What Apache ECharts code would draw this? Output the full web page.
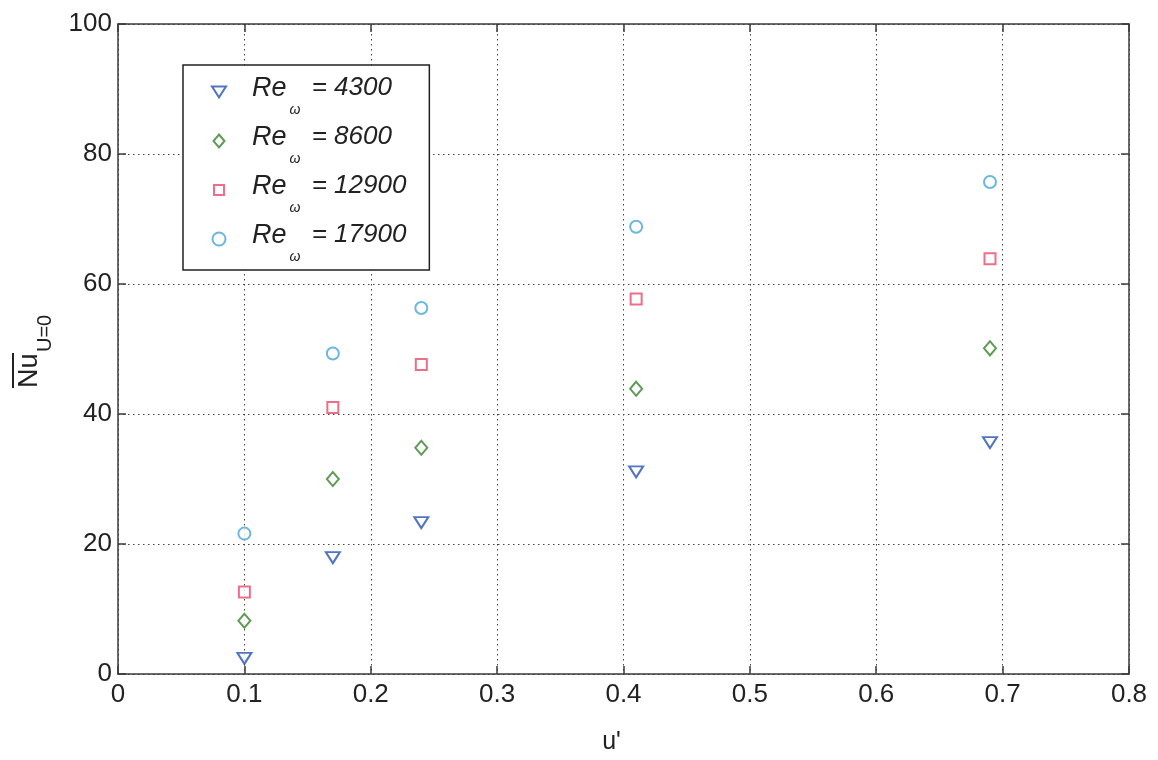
<!DOCTYPE html>
<html>
<head>
<meta charset="utf-8">
<script src="https://cdn.jsdelivr.net/npm/echarts@6/dist/echarts.min.js"></script>
<style>
html,body{margin:0;padding:0;background:#fff;}
#chart{width:1158px;height:760px;}
</style>
</head>
<body>
<div id="chart"></div>
<script>
// ---- data ----
var uPrime = [0.1, 0.17, 0.24, 0.41, 0.69];
var nu4300 = [2.4, 17.9, 23.3, 31.1, 35.6];
var nu8600 = [8.2, 30.0, 34.8, 43.9, 50.1];
var nu12900 = [12.6, 41.0, 47.6, 57.7, 63.9];
var nu17900 = [21.6, 49.3, 56.3, 68.8, 75.7];
var reLabels = ['4300', '8600', '12900', '17900'];
var xTicks = [0, 0.8, 0.1];
var yTicks = [0, 100, 20];

function pairs(xs, ys) { return xs.map(function (x, i) { return [x, ys[i]]; }); }

var FONT = '"Liberation Sans", Arial, sans-serif';
var chart = echarts.init(document.getElementById('chart'), null, {renderer: 'canvas'});

var gridLine = {show: true, lineStyle: {color: '#444', width: 1, type: [1.5, 3.5]}};
var axisLine = {show: true, onZero: false, lineStyle: {color: '#3a3a3a', width: 1.5}};
var tick = {show: true, inside: true, length: 8, lineStyle: {color: '#3a3a3a', width: 1.5}};

var seriesDefs = [
  {name: 'Re = ' + reLabels[0], data: nu4300, symbol: 'triangle', size: [14, 11], rot: 180, color: '#2652b0',
   icon: 'path://M0,0L13,0L6.5,10Z'},
  {name: 'Re = ' + reLabels[1], data: nu8600, symbol: 'diamond', size: [12, 14], rot: 0, color: '#38822c',
   icon: 'path://M5.5,0L11,6.5L5.5,13L0,6.5Z'},
  {name: 'Re = ' + reLabels[2], data: nu12900, symbol: 'rect', size: [11, 11], rot: 0, color: '#e84a6a',
   icon: 'path://M-1.5,-1.5M0,0L10,0L10,10L0,10ZM11.5,11.5'},
  {name: 'Re = ' + reLabels[3], data: nu17900, symbol: 'circle', size: 12, rot: 0, color: '#45a6d6',
   icon: 'circle'}
];

var option = {
  animation: false,
  backgroundColor: '#fff',
  grid: {left: 118, right: 29, top: 24, bottom: 85, containLabel: false},
  xAxis: [{
    type: 'value', min: xTicks[0], max: xTicks[1], interval: xTicks[2],
    position: 'bottom',
    axisLine: axisLine, axisTick: tick, splitLine: gridLine,
    axisLabel: {color: '#222', fontFamily: FONT, fontSize: 26, margin: 8,
      formatter: function (v) { return v === 0 ? '0' : v.toFixed(1); }},
    name: "u'", nameLocation: 'middle', nameGap: 56,
    nameTextStyle: {color: '#222', fontFamily: FONT, fontSize: 25, padding: [0, 24, 0, 0]}
  }, {
    type: 'value', min: xTicks[0], max: xTicks[1], interval: xTicks[2],
    position: 'top',
    axisLine: axisLine, axisTick: tick, splitLine: {show: false}, axisLabel: {show: false}
  }],
  yAxis: [{
    type: 'value', min: yTicks[0], max: yTicks[1], interval: yTicks[2],
    position: 'left',
    axisLine: axisLine, axisTick: tick, splitLine: gridLine,
    axisLabel: {color: '#222', fontFamily: FONT, fontSize: 26, margin: 6}
  }, {
    type: 'value', min: yTicks[0], max: yTicks[1], interval: yTicks[2],
    position: 'right',
    axisLine: axisLine, axisTick: tick, splitLine: {show: false}, axisLabel: {show: false}
  }],
  legend: {
    orient: 'vertical', left: 183, top: 65,
    padding: [10, 23, 6, 28],
    itemGap: 7, itemWidth: 14, itemHeight: 13,
    symbolKeepAspect: true,
    backgroundColor: '#fff', borderColor: '#222', borderWidth: 1.5, borderRadius: 0,
    selectedMode: false,
    data: seriesDefs.map(function (s) {
      return {name: s.name, icon: s.icon,
        itemStyle: {color: '#fff', borderColor: s.color, borderWidth: 2}};
    }),
    formatter: function (name) {
      var v = name.split('= ')[1];
      return '{a|Re}{b|\u03c9}{c| = ' + v + '}';
    },
    textStyle: {
      color: '#222', fontFamily: FONT, fontStyle: 'italic', fontSize: 26,
      rich: {
        a: {fontFamily: FONT, fontStyle: 'italic', fontSize: 27, lineHeight: 34, verticalAlign: 'top', padding: [0, 0, 0, 21], color: '#222'},
        b: {fontFamily: FONT, fontStyle: 'italic', fontSize: 14, lineHeight: 14, padding: [28, 0, 0, 3], verticalAlign: 'top', color: '#222'},
        c: {fontFamily: FONT, fontStyle: 'italic', fontSize: 26, lineHeight: 34, verticalAlign: 'top', padding: [0, 0, 0, 4], color: '#222'}
      }
    }
  },
  graphic: [{
    type: 'group', x: 0, y: 388, rotation: Math.PI / 2, silent: true,
    children: [
      {type: 'text', style: {text: 'Nu', x: 0, y: 30, font: '27px ' + FONT, fill: '#222', textAlign: 'left', textVerticalAlign: 'middle'}},
      {type: 'text', style: {text: 'U=0', x: 36, y: 45, font: '20px ' + FONT, fill: '#222', textAlign: 'left', textVerticalAlign: 'middle'}},
      {type: 'line', shape: {x1: 0, y1: 13, x2: 35, y2: 13}, style: {stroke: '#222', lineWidth: 2}}
    ]
  }],
  series: seriesDefs.map(function (s) {
    return {
      name: s.name, type: 'scatter', xAxisIndex: 0, yAxisIndex: 0,
      symbol: s.symbol, symbolSize: s.size, symbolRotate: s.rot,
      itemStyle: {color: '#fff', borderColor: s.color, borderWidth: 2},
      data: pairs(uPrime, s.data), z: 5
    };
  })
};
chart.setOption(option);
</script>
</body>
</html>
